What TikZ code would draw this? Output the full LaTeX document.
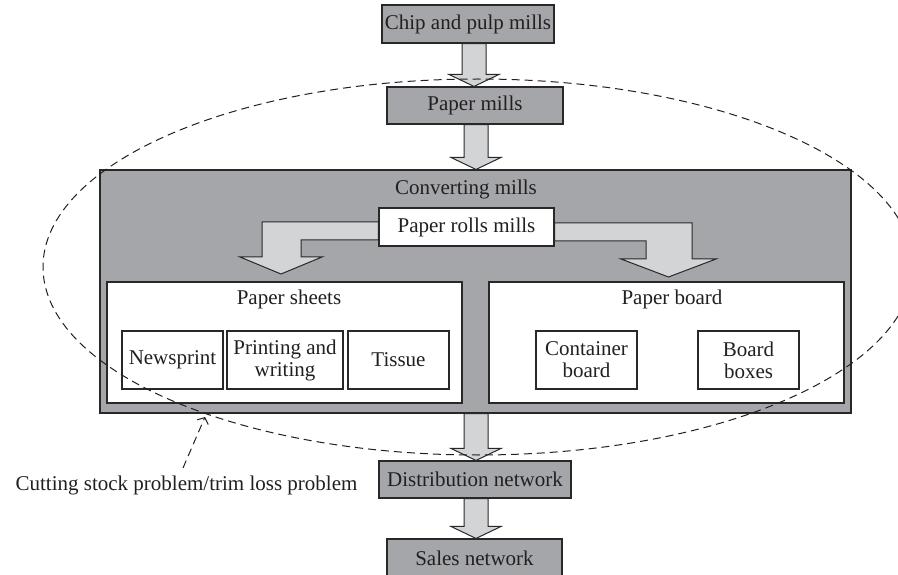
\documentclass[tikz,border=0pt]{standalone}
\usepackage{fontspec}
\setmainfont{Liberation Serif}
\usetikzlibrary{calc,arrows.meta}
\definecolor{boxgray}{RGB}{165,166,170}
\definecolor{arrowgray}{RGB}{211,212,214}
\definecolor{linegray}{RGB}{40,40,40}
\definecolor{inkgray}{RGB}{35,31,32}
\newcommand\fatdown[3]{%
  \draw[fatarrow] let \p1=(#2.south), \p2=(#3.north) in
    ({#1pt-12pt},\y1) -- ({#1pt-12pt},{\y2+12pt}) -- ({#1pt-25pt},{\y2+12pt})
    -- (#1pt,\y2) -- ({#1pt+25pt},{\y2+12pt}) -- ({#1pt+12pt},{\y2+12pt})
    -- ({#1pt+12pt},\y1) -- cycle;}
\begin{document}
\begin{tikzpicture}[x=1pt,y=-1pt,
  font=\fontsize{21}{22}\selectfont, text=inkgray,
  grayblock/.style={draw=linegray, line width=1.1pt, fill=boxgray, inner sep=0pt, align=center},
  whiteblock/.style={draw=linegray, line width=1.1pt, fill=white, inner sep=0pt, align=center},
  fatarrow/.style={draw=linegray, line width=1pt, fill=arrowgray, line join=miter},
  labeltext/.style={inner sep=0pt, anchor=base},
  dashcurve/.style={draw=inkgray, line width=1pt, dash pattern=on 8pt off 5pt}]
\useasboundingbox (0,0) rectangle (898,575);

% main chain
\node[grayblock, minimum width=172pt, minimum height=38pt] (chip) at (468,24) {Chip and pulp mills};
\node[grayblock, minimum width=176pt, minimum height=37pt] (paper) at (475,105.5) {Paper mills};
\node[grayblock, minimum width=751pt, minimum height=243pt] (conv) at (475.5,291.5) {};
\node[labeltext] (convlabel) at (466,195) {Converting mills};
\node[grayblock, minimum width=192pt, minimum height=37pt] (dist) at (475,479.5) {Distribution network};
\node[grayblock, minimum width=175pt, minimum height=38pt] (sales) at (474.5,558) {Sales network};

% inside converting mills
\node[whiteblock, minimum width=175pt, minimum height=38pt] (rolls) at (466.5,227) {Paper rolls mills};
\node[whiteblock, minimum width=355pt, minimum height=121pt] (sheets) at (284.5,342.5) {};
\node[labeltext] (sheetslabel) at (289,305) {Paper sheets};
\node[whiteblock, minimum width=355pt, minimum height=121pt] (board) at (666.5,342.5) {};
\node[labeltext] (boardlabel) at (672,305) {Paper board};

\node[whiteblock, minimum width=101pt, minimum height=58pt] (news) at (172.5,360) {Newsprint};
\node[whiteblock, minimum width=116pt, minimum height=58pt] (print) at (285,360) {Printing and\\writing};
\node[whiteblock, minimum width=101pt, minimum height=58pt] (tissue) at (398.5,360) {Tissue};
\node[whiteblock, minimum width=101pt, minimum height=58pt] (cont) at (586.5,360) {Container\\board};
\node[whiteblock, minimum width=101pt, minimum height=58pt] (boxes) at (748.5,360) {Board\\boxes};

% bent arrows from paper rolls mills
\coordinate (ltip) at (281,274);
\coordinate (rtip) at (668.5,277);
\draw[fatarrow] ($(rolls.west)+(0,-5)$) -- (262,222) -- (262,257) -- (240,257) -- (ltip)
  -- (322,257) -- (301,257) -- (301,240) -- ($(rolls.west)+(0,13)$) -- cycle;
\draw[fatarrow] ($(rolls.east)+(0,-4)$) -- (692,223) -- (692,259) -- (716,259) -- (rtip)
  -- (621,259) -- (646,259) -- (646,241) -- ($(rolls.east)+(0,14)$) -- cycle;

% vertical fat arrows
\fatdown{474}{chip}{paper}
\fatdown{476}{paper}{conv}
\fatdown{476}{conv}{dist}
\fatdown{476}{dist}{sales}

% dashed ellipse and annotation
\draw[dashcurve] (478,267) ellipse [x radius=435, y radius=188];
\node[labeltext] (cutlabel) at (186.5,490) {Cutting stock problem/trim loss problem};
\coordinate (cutstart) at (183,468);
\coordinate (cuttip) at (205,417);
\draw[dashcurve, -{Straight Barb[length=5pt,width=12pt]}] (cutstart) -- (cuttip);
\end{tikzpicture}
\end{document}
